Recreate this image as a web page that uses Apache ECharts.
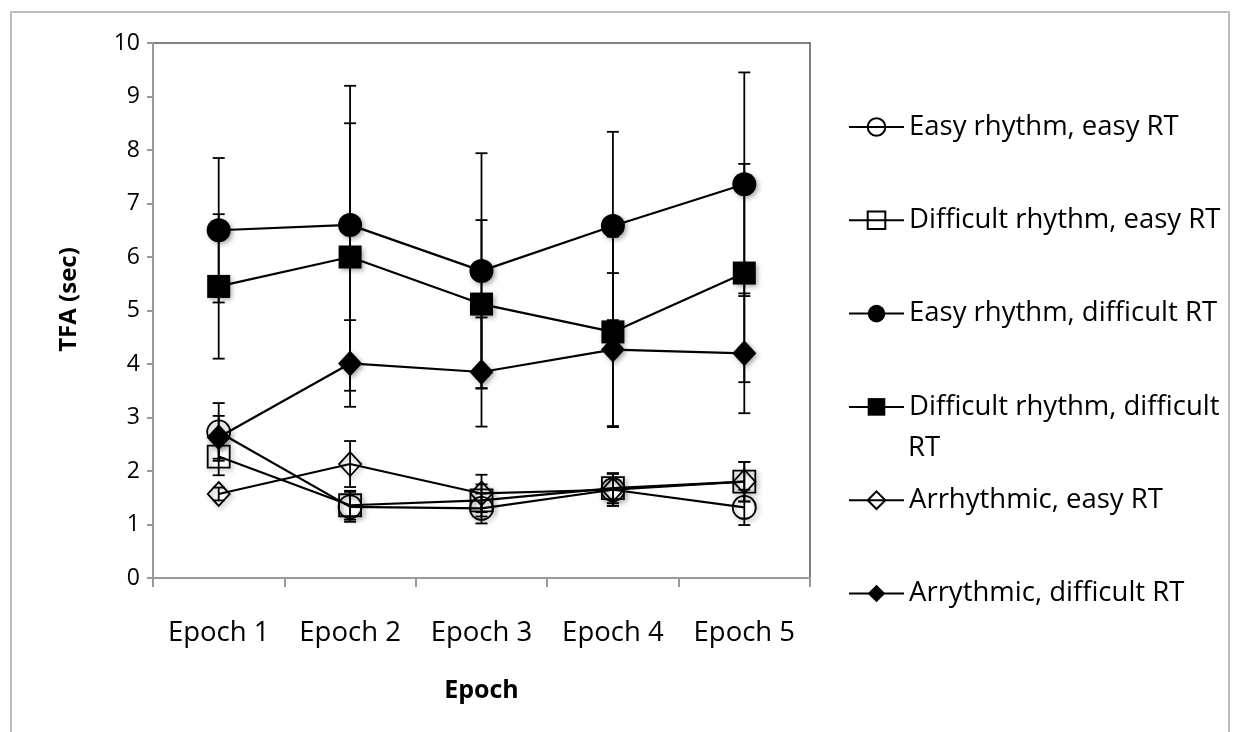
<!DOCTYPE html>
<html>
<head>
<meta charset="utf-8">
<title>TFA by epoch</title>
<script src="https://cdn.jsdelivr.net/npm/echarts@6/dist/echarts.min.js"></script>
<style>
  html, body { margin: 0; padding: 0; background: #fff; }
  #chart { width: 1239px; height: 732px; }
</style>
</head>
<body>
<div id="chart"></div>
<script>
// Category labels for the x axis
const epochs = ['Epoch 1', 'Epoch 2', 'Epoch 3', 'Epoch 4', 'Epoch 5'];

// Condition names (legend order)
const seriesNames = [
  'Easy rhythm, easy RT',
  'Difficult rhythm, easy RT',
  'Easy rhythm, difficult RT',
  'Difficult rhythm, difficult RT',
  'Arrhythmic, easy RT',
  'Arrythmic, difficult RT'
];

// Mean TFA (sec) per epoch
const easyRhythmEasyRT      = [2.73, 1.33, 1.30, 1.65, 1.32];
const diffRhythmEasyRT      = [2.27, 1.36, 1.45, 1.68, 1.80];
const easyRhythmDiffRT      = [6.50, 6.60, 5.74, 6.58, 7.36];
const diffRhythmDiffRT      = [5.45, 6.00, 5.12, 4.60, 5.70];
const arrhythmicEasyRT      = [1.57, 2.13, 1.58, 1.65, 1.80];
const arrhythmicDiffRT      = [2.63, 4.01, 3.85, 4.27, 4.20];

// Error bar half-widths (sec)
const easyRhythmEasyRTErr   = [0.54, 0.28, 0.28, 0.30, 0.33];
const diffRhythmEasyRTErr   = [0.35, 0.27, 0.30, 0.28, 0.37];
const easyRhythmDiffRTErr   = [1.35, 2.60, 2.20, 1.76, 2.09];
const diffRhythmDiffRTErr   = [1.35, 2.50, 1.57, 1.78, 2.04];
const arrhythmicEasyRTErr   = [0.12, 0.43, 0.35, 0.30, 0.37];
const arrhythmicDiffRTErr   = [0.40, 0.81, 1.02, 1.43, 1.12];

// Y axis ticks
const yMin = 0, yMax = 10, yStep = 1;

const means = [easyRhythmEasyRT, diffRhythmEasyRT, easyRhythmDiffRT,
               diffRhythmDiffRT, arrhythmicEasyRT, arrhythmicDiffRT];
const errs  = [easyRhythmEasyRTErr, diffRhythmEasyRTErr, easyRhythmDiffRTErr,
               diffRhythmDiffRTErr, arrhythmicEasyRTErr, arrhythmicDiffRTErr];

// Marker look for each condition: open/filled circle, square, diamond
const markerDefs = [
  { symbol: 'circle',  size: 23, filled: false },
  { symbol: 'rect',    size: 22, filled: false },
  { symbol: 'circle',  size: 24, filled: true  },
  { symbol: 'rect',    size: 23, filled: true  },
  { symbol: 'diamond', size: [22, 24], filled: false },
  { symbol: 'diamond', size: [24, 26], filled: true  }
];

const FONT = '"Open Sans", "Liberation Sans", sans-serif';
const TEXT = '#000';

const chart = echarts.init(document.getElementById('chart'), null, { renderer: 'canvas' });

const lineSeries = seriesNames.map((name, i) => ({
  name: name,
  type: 'line',
  data: means[i],
  symbol: markerDefs[i].symbol,
  symbolSize: markerDefs[i].size,
  showAllSymbol: true,
  z: 3,
  lineStyle: { color: '#000', width: 2.2 },
  itemStyle: {
    color: markerDefs[i].filled ? '#000' : 'rgba(0,0,0,0)',
    borderColor: '#000',
    borderWidth: markerDefs[i].filled ? 0 : 1.8,
    shadowBlur: 5,
    shadowColor: 'rgba(0,0,0,0.35)',
    shadowOffsetX: 2,
    shadowOffsetY: 2
  },
  emphasis: { disabled: true },
  animation: false
}));

// Vertical error bars with caps, one custom series per condition
const errorSeries = seriesNames.map((name, i) => ({
  name: name + ' error',
  type: 'custom',
  z: 2,
  silent: true,
  animation: false,
  data: means[i].map((m, k) => [k, m - errs[i][k], m + errs[i][k]]),
  renderItem: function (params, api) {
    const x = api.value(0);
    const lo = api.coord([x, api.value(1)]);
    const hi = api.coord([x, api.value(2)]);
    const half = 6;
    const style = { stroke: '#000', lineWidth: 1.8, fill: null };
    return {
      type: 'group',
      children: [
        { type: 'line', shape: { x1: hi[0], y1: hi[1], x2: lo[0], y2: lo[1] }, style: style },
        { type: 'line', shape: { x1: hi[0] - half, y1: hi[1], x2: hi[0] + half, y2: hi[1] }, style: style },
        { type: 'line', shape: { x1: lo[0] - half, y1: lo[1], x2: lo[0] + half, y2: lo[1] }, style: style }
      ]
    };
  }
}));

const longName = seriesNames[3];

const option = {
  backgroundColor: '#fff',
  animation: false,
  grid: {
    left: 153, right: 429, top: 43, bottom: 154,
    show: true, borderColor: '#555', borderWidth: 1.5, backgroundColor: 'transparent'
  },
  xAxis: {
    type: 'category',
    data: epochs,
    boundaryGap: true,
    name: 'Epoch',
    nameLocation: 'middle',
    nameGap: 100,
    nameTextStyle: { fontFamily: FONT, fontSize: 25, fontWeight: 'bold', color: TEXT },
    axisLine: { show: true, lineStyle: { color: '#999', width: 2 } },
    axisTick: { show: true, length: 9, interval: 0, alignWithLabel: false, lineStyle: { color: '#999', width: 2 } },
    axisLabel: { margin: 41, fontFamily: FONT, fontSize: 27.5, color: TEXT, interval: 0 },
    splitLine: { show: false }
  },
  yAxis: {
    type: 'value',
    min: yMin, max: yMax, interval: yStep,
    name: 'TFA (sec)',
    nameLocation: 'middle',
    nameGap: 72,
    nameTextStyle: { fontFamily: FONT, fontSize: 24, fontWeight: 'bold', color: TEXT, padding: [0, 0, 0, 22] },
    axisLine: { show: true, lineStyle: { color: '#999', width: 2 } },
    axisTick: { show: true, length: 6, lineStyle: { color: '#999', width: 2 } },
    axisLabel: { margin: 13, fontFamily: FONT, fontSize: 23, color: TEXT },
    splitLine: { show: false }
  },
  legend: {
    data: seriesNames,
    orient: 'vertical',
    left: 843,
    top: 108,
    itemWidth: 55,
    itemHeight: 22,
    itemGap: 65.3,
    selectedMode: false,
    formatter: function (name) {
      return name === longName ? 'Difficult rhythm, difficult' : name;
    },
    textStyle: { fontFamily: FONT, fontSize: 27.5, color: TEXT, lineHeight: 22 },
    itemStyle: { shadowBlur: 0, shadowColor: 'rgba(0,0,0,0)', shadowOffsetX: 0, shadowOffsetY: 0 }
  },
  graphic: [
    {
      type: 'rect',
      silent: true,
      shape: { x: 11, y: 12, width: 1218, height: 740 },
      style: { fill: null, stroke: '#bdbdbd', lineWidth: 2 }
    },
    {
      type: 'text',
      silent: true,
      left: 908,
      top: 434,
      style: { text: 'RT', fontFamily: FONT, fontSize: 27.5, fill: TEXT }
    }
  ],
  series: errorSeries.concat(lineSeries)
};

chart.setOption(option);
</script>
</body>
</html>
